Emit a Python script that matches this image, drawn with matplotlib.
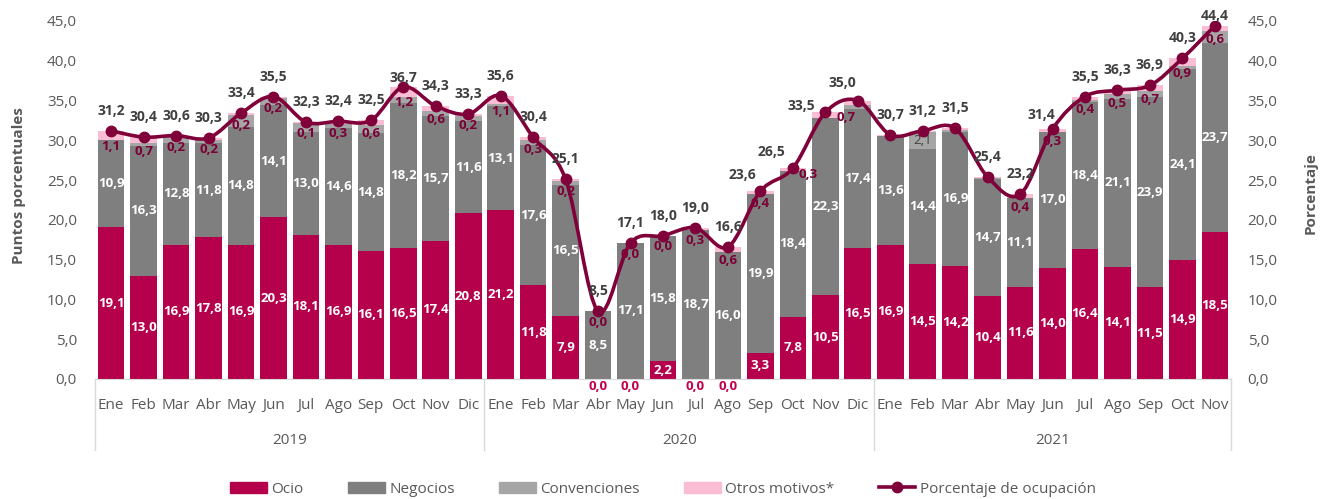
# Ocupación hotelera por motivo de viaje, barras apiladas + línea de ocupación
import matplotlib.pyplot as plt
import numpy as np
from matplotlib.path import Path
from matplotlib.patches import PathPatch, Patch
from matplotlib.lines import Line2D
from matplotlib.transforms import blended_transform_factory

plt.rcParams['font.family'] = ['Open Sans', 'DejaVu Sans']

meses = ['Ene', 'Feb', 'Mar', 'Abr', 'May', 'Jun', 'Jul', 'Ago', 'Sep', 'Oct', 'Nov', 'Dic'] * 2 + \
        ['Ene', 'Feb', 'Mar', 'Abr', 'May', 'Jun', 'Jul', 'Ago', 'Sep', 'Oct', 'Nov']
anios = ['2019', '2020', '2021']
meses_por_anio = [12, 12, 11]

ocio = [19.1, 13.0, 16.9, 17.8, 16.9, 20.3, 18.1, 16.9, 16.1, 16.5, 17.4, 20.8,
        21.2, 11.8, 7.9, 0.0, 0.0, 2.2, 0.0, 0.0, 3.3, 7.8, 10.5, 16.5,
        16.9, 14.5, 14.2, 10.4, 11.6, 14.0, 16.4, 14.1, 11.5, 14.9, 18.5]
negocios = [10.9, 16.3, 12.8, 11.8, 14.8, 14.1, 13.0, 14.6, 14.8, 18.2, 15.7, 11.6,
            13.1, 17.6, 16.5, 8.5, 17.1, 15.8, 18.7, 16.0, 19.9, 18.4, 22.3, 17.4,
            13.6, 14.4, 16.9, 14.7, 11.1, 17.0, 18.4, 21.1, 23.9, 24.1, 23.7]
convenciones = [0.1, 0.4, 0.7, 0.5, 1.5, 0.9, 1.1, 0.6, 1.0, 0.8, 0.6, 0.7,
                0.2, 0.7, 0.5, 0.0, 0.0, 0.0, 0.0, 0.0, 0.0, 0.0, 0.0, 0.5,
                0.1, 2.1, 0.2, 0.1, 0.1, 0.1, 0.3, 0.6, 0.8, 0.4, 1.6]
otros = [1.1, 0.7, 0.2, 0.2, 0.2, 0.2, 0.1, 0.3, 0.6, 1.2, 0.6, 0.2,
         1.1, 0.3, 0.2, 0.0, 0.0, 0.0, 0.3, 0.6, 0.4, 0.3, 0.7, 0.6,
         0.1, 0.2, 0.2, 0.2, 0.4, 0.3, 0.4, 0.5, 0.7, 0.9, 0.6]
ocupacion = [31.2, 30.4, 30.6, 30.3, 33.4, 35.5, 32.3, 32.4, 32.5, 36.7, 34.3, 33.3,
             35.6, 30.4, 25.1, 8.5, 17.1, 18.0, 19.0, 16.6, 23.6, 26.5, 33.5, 35.0,
             30.7, 31.2, 31.5, 25.4, 23.2, 31.4, 35.5, 36.3, 36.9, 40.3, 44.4]

otros_sin_etiqueta = {23, 24, 25, 26, 27}
conv_con_etiqueta = {25}

C_OCIO = '#B5004B'
C_NEG = '#7F7F7F'
C_CONV = '#A6A6A6'
C_OTROS = '#FBBDD3'
C_LINEA = '#80003A'
C_TXT = '#595959'


def coma(v):
    return ('%.1f' % v).replace('.', ',')


x = np.arange(len(meses))
ocio_a = np.array(ocio)
neg_a = np.array(negocios)
conv_a = np.array(convenciones)
otros_a = np.array(otros)

fig = plt.figure(figsize=(13.26, 4.99), dpi=100)
ax = fig.add_axes([0.0716, 0.2405, 0.8568, 0.7175])

w = 0.82
ax.bar(x, ocio_a, w, color=C_OCIO, edgecolor='none')
ax.bar(x, neg_a, w, bottom=ocio_a, color=C_NEG, edgecolor='none')
ax.bar(x, conv_a, w, bottom=ocio_a + neg_a, color=C_CONV, edgecolor='none')
ax.bar(x, otros_a, w, bottom=ocio_a + neg_a + conv_a, color=C_OTROS, edgecolor='none')

ax.set_xlim(-0.5, len(meses) - 0.5)
ax.set_ylim(0, 45)
ax.set_yticks(np.arange(0, 46, 5))
ax.set_yticklabels([coma(v) for v in np.arange(0, 46, 5)])
ax.set_xticks(x)
ax.set_xticklabels(meses)
ax.tick_params(axis='x', length=0, pad=14, labelsize=11, labelcolor=C_TXT)
ax.tick_params(axis='y', length=0, pad=13, labelsize=11, labelcolor=C_TXT)
for s in ['top', 'left', 'right']:
    ax.spines[s].set_visible(False)
ax.spines['bottom'].set_color('#D9D9D9')

ax.set_ylabel('Puntos porcentuales', fontsize=11, fontweight='bold', color=C_TXT)
ax.yaxis.set_label_coords(-0.061, 0.54)

# etiquetas de las barras
for i in x:
    if ocio_a[i] > 0:
        ax.text(i, ocio_a[i] / 2, coma(ocio_a[i]), ha='center', va='center',
                color='white', fontsize=9.5, fontweight='bold')
    else:
        ax.annotate(coma(0), (i, 0), xytext=(0, -1), textcoords='offset points',
                    ha='center', va='top', color='#C0004E', fontsize=9.5, fontweight='bold')
    ax.text(i, ocio_a[i] + neg_a[i] / 2, coma(neg_a[i]), ha='center', va='center',
            color='white', fontsize=9.5, fontweight='bold')
    if i in conv_con_etiqueta:
        ax.text(i, ocio_a[i] + neg_a[i] + conv_a[i] / 2, coma(conv_a[i]), ha='center',
                va='center', color='#404040', fontsize=9.5)
    if i not in otros_sin_etiqueta:
        base = ocio_a[i] + neg_a[i] + conv_a[i]
        dx, dy = {21: (15, 6), 22: (21, 9)}.get(i, (0, 0))
        ax.annotate(coma(otros_a[i]), (i, base + otros_a[i] / 2 - 1.4), xytext=(dx * 0.72, dy * 0.72),
                    textcoords='offset points', ha='center', va='center',
                    color='#7A0035', fontsize=9.5, fontweight='bold')

# grupos de años
trans = blended_transform_factory(ax.transData, ax.transAxes)
inicio = -0.5
for anio, n in zip(anios, meses_por_anio):
    ax.plot([inicio, inicio], [0, -0.198], transform=trans, color='#D9D9D9', lw=1, clip_on=False)
    ax.text(inicio + n / 2, -0.172, anio, transform=trans, ha='center', va='center',
            fontsize=11, color=C_TXT)
    inicio += n
ax.plot([inicio, inicio], [0, -0.198], transform=trans, color='#D9D9D9', lw=1, clip_on=False)

# eje secundario con la línea suavizada
ax2 = ax.twinx()
ax2.set_ylim(0, 45)
ax2.set_yticks(np.arange(0, 46, 5))
ax2.set_yticklabels([coma(v) for v in np.arange(0, 46, 5)])
ax2.tick_params(axis='y', length=0, pad=12, labelsize=11, labelcolor=C_TXT)
for s in ['top', 'left', 'right', 'bottom']:
    ax2.spines[s].set_visible(False)
ax2.set_ylabel('Porcentaje', fontsize=11, fontweight='bold', color=C_TXT, rotation=90)
ax2.yaxis.set_label_coords(1.064, 0.52)

pts = np.column_stack([x, ocupacion]).astype(float)
verts = [pts[0]]
codes = [Path.MOVETO]
for k in range(len(pts) - 1):
    p0 = pts[k - 1] if k > 0 else pts[k]
    p1, p2 = pts[k], pts[k + 1]
    p3 = pts[k + 2] if k + 2 < len(pts) else pts[k + 1]
    verts += [p1 + (p2 - p0) / 6, p2 - (p3 - p1) / 6, p2]
    codes += [Path.CURVE4] * 3
ax2.add_patch(PathPatch(Path(verts, codes), fill=False, edgecolor=C_LINEA, lw=2.6,
                        capstyle='round', joinstyle='round'))
ax2.plot(x, ocupacion, 'o', color=C_LINEA, ms=7.5, linestyle='none')

desplaz = {9: (0, 9), 20: (-18, 16), 21: (-21, 16), 22: (-24, 6), 23: (-15, 18),
           29: (-11, 14), 34: (0, 10)}
for i, v in enumerate(ocupacion):
    dx, dy = desplaz.get(i, (0, 20))
    ax2.annotate(coma(v), (i, v), xytext=(dx * 0.72, dy * 0.72), textcoords='offset points',
                 ha='center', va='center', fontsize=10, fontweight='bold', color='#404040')

handles = [Patch(color=C_OCIO), Patch(color=C_NEG), Patch(color=C_CONV), Patch(color=C_OTROS),
           Line2D([], [], color=C_LINEA, lw=2.6, marker='o', ms=7.5)]
labels = ['Ocio', 'Negocios', 'Convenciones', 'Otros motivos*', 'Porcentaje de ocupación']
fig.legend(handles, labels, loc='center', bbox_to_anchor=(0.5, 0.02), ncol=5, frameon=False,
           fontsize=11, handlelength=2.4, handletextpad=0.3, columnspacing=2.9, labelcolor=C_TXT)

fig.savefig('out.png', dpi=100)
